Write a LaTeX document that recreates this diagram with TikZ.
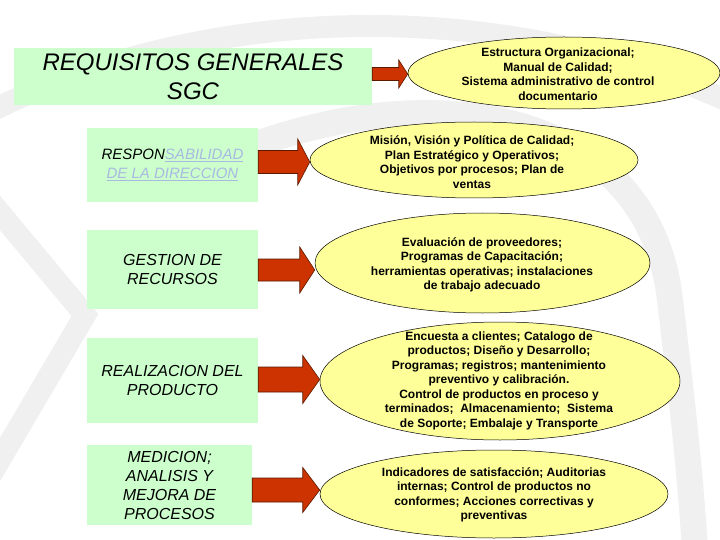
\documentclass[tikz,border=0pt]{standalone}
\usepackage{fontspec}
\setmainfont{Liberation Sans}
\usetikzlibrary{shapes.geometric,calc}
\definecolor{boxgreen}{HTML}{CCFFCC}
\definecolor{ellyellow}{HTML}{FFFF99}
\definecolor{arrowred}{HTML}{CC3300}
\definecolor{arrowline}{HTML}{5A1A00}
\definecolor{linkblue}{HTML}{A9B9E2}
\definecolor{wm}{HTML}{F0F0F0}
\newcommand{\barrow}[6]{% from, to, shaft half, head half, head length, y offset (down)
  \path[bigarrow] let \p1=(#1.east), \p2=(#2.west) in
    (\x1,\y2-#6pt+#3pt) -- (\x2-#5pt,\y2-#6pt+#3pt) -- (\x2-#5pt,\y2-#6pt+#4pt) --
    (\x2,\y2-#6pt) -- (\x2-#5pt,\y2-#6pt-#4pt) -- (\x2-#5pt,\y2-#6pt-#3pt) --
    (\x1,\y2-#6pt-#3pt) -- cycle;}
\tikzset{
  gbox/.style={rectangle, fill=boxgreen, draw=none, inner sep=0pt, align=center,
    font=\itshape\fontsize{16}{19}\selectfont},
  ell/.style={ellipse, fill=ellyellow, draw=black, line width=0.5pt, inner sep=0pt},
  etext/.style={align=center, inner sep=0pt, font=\bfseries\fontsize{12}{14.5}\selectfont},
  bigarrow/.style={fill=arrowred, draw=arrowline, line width=0.6pt, line join=miter},
  wmband/.style={draw=wm, line width=#1},
  wmband/.default=22pt
}
\begin{document}
\begin{tikzpicture}[x=1pt,y=-1pt]
\useasboundingbox (0,0) rectangle (720,540);
\fill[white] (0,0) rectangle (720,540);
% faint watermark
\begin{scope}
\clip (0,0) rectangle (720,540);
\draw[wmband] (370,560) ellipse [x radius=700pt, y radius=534pt];
\draw[wmband=26pt] (240,150) .. controls (450,70) and (650,120) .. (670,300)
  .. controls (682,400) and (690,470) .. (695,550);
\draw[wmband, line cap=butt] (-15,195) -- (85,315) -- (-15,485);
\end{scope}
% boxes
\node[gbox, minimum width=358pt, minimum height=57pt,
  font=\itshape\fontsize{24}{29}\selectfont] (b1) at (193,76.5)
  {REQUISITOS GENERALES\\SGC};
\node[gbox, minimum width=171pt, minimum height=74pt,
  font=\itshape\fontsize{15}{19}\selectfont] (b2) at (172.5,165)
  {RESPON{\color{linkblue}\underline{SABILIDAD}}\\{\color{linkblue}\underline{DE LA DIRECCION}}};
\node[gbox, minimum width=171pt, minimum height=79pt] (b3) at (172.5,269.5)
  {GESTION DE\\RECURSOS};
\node[gbox, minimum width=171pt, minimum height=85pt] (b4) at (172.5,380.5)
  {REALIZACION DEL\\PRODUCTO};
\node[gbox, minimum width=165pt, minimum height=80pt] (b5) at (169.5,485)
  {MEDICION;\\ANALISIS Y\\MEJORA DE\\PROCESOS};
% ellipses
\node[ell, minimum width=312pt, minimum height=72pt] (e1) at (564,73) {};
\node[ell, minimum width=328pt, minimum height=76pt] (e2) at (474,160) {};
\node[ell, minimum width=335pt, minimum height=100pt] (e3) at (482.5,263) {};
\node[ell, minimum width=360pt, minimum height=118pt] (e4) at (500,381) {};
\node[ell, minimum width=348pt, minimum height=88pt] (e5) at (494,494) {};
% ellipse texts
\node[etext] (t1) at (558,74) {Estructura Organizacional;\\Manual de Calidad;\\Sistema administrativo de control\\documentario};
\node[etext] (t2) at (472,162) {Misión, Visión y Política de Calidad;\\Plan Estratégico y Operativos;\\Objetivos por procesos; Plan de\\ventas};
\node[etext] (t3) at (482,265) {Evaluación de proveedores;\\Programas de Capacitación;\\herramientas operativas; instalaciones\\de trabajo adecuado};
\node[etext] (t4) at (499,380.5) {Encuesta a clientes; Catalogo de\\productos; Diseño y Desarrollo;\\Programas; registros; mantenimiento\\preventivo y calibración.\\ Control de productos en proceso y\\terminados;\ \ Almacenamiento;\ \ Sistema\\de Soporte; Embalaje y Transporte};
\node[etext] (t5) at (494,495) {Indicadores de satisfacción; Auditorias\\internas; Control de productos no\\conformes; Acciones correctivas y\\preventivas};
% block arrows
\barrow{b1}{e1}{6.5}{14}{9}{1}
\barrow{b2}{e2}{11.5}{23}{12}{2}
\barrow{b3}{e3}{11}{23}{15}{7}
\barrow{b4}{e4}{12.5}{24}{17}{-1.5}
\barrow{b5}{e5}{12}{22.5}{17}{-4}
\end{tikzpicture}
\end{document}
